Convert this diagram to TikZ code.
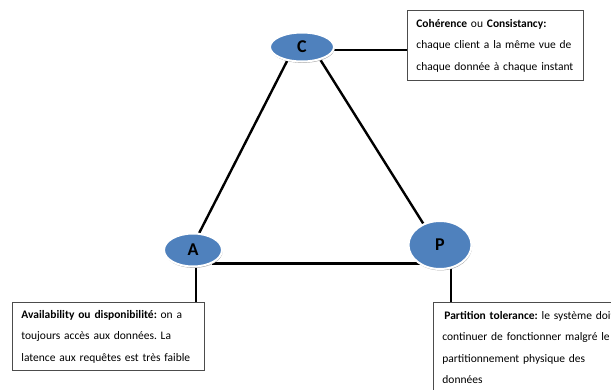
\documentclass[tikz,border=0pt]{standalone}
\usepackage{fontspec}
\setmainfont{Carlito}
\usetikzlibrary{shapes.geometric,backgrounds,shadows}
\definecolor{capblue}{RGB}{79,129,189}
\begin{document}
\begin{tikzpicture}[x=1pt,y=-1pt,
  vertex/.style={ellipse, fill=capblue, draw=white, line width=2pt, inner sep=0pt,
    font=\fontsize{18}{20}\selectfont\bfseries,
    drop shadow={shadow xshift=0.6pt, shadow yshift=-1.4pt, fill=black!35, opacity=1}},
  infobox/.style={draw=black!70, line width=0.8pt, fill=white, align=left,
    inner xsep=9pt, inner ysep=0pt, font=\frenchspacing\fontsize{11.5}{21.5}\selectfont, anchor=north west},
  link/.style={line width=2.4pt, black}]
\useasboundingbox (0,0) rectangle (611,389);
\clip (0,0) rectangle (611,389);
\node[vertex, minimum width=64pt, minimum height=29pt] (C) at (302,47) {C};
\node[vertex, minimum width=58pt, minimum height=33pt] (A) at (193,250) {A};
\node[vertex, minimum width=63pt, minimum height=48pt] (P) at (440,245) {P};
\node[infobox, text width=158pt, minimum width=176pt, minimum height=70pt] (bC) at (407,10)
  {\textbf{Cohérence} ou \textbf{Consistancy:}\\ chaque client a la même vue de\\ chaque donnée à chaque instant};
\node[infobox, text width=174pt, minimum width=192pt, minimum height=68pt] (bA) at (12,302)
  {\textbf{Availability ou disponibilité:} on a\\ toujours accès aux données. La\\ latence aux requêtes est très faible};
\node[infobox, text width=182pt, minimum width=200pt, minimum height=90pt] (bP) at (433,302)
  {\hspace{2pt}\textbf{Partition tolerance:} le système doit\\ continuer de fonctionner malgré le\\ partitionnement physique des\\ données};
\begin{scope}[on background layer]
\draw[link] (C.223) -- (A.70);
\draw[link] (C.-35) -- (P.128);
\draw[link] (A.-35) -- (A.-35 -| P.center);
\draw[link] (C.-5) -- (C.-5 -| bC.west);
\draw[link] (A.-80) -- (A.-80 |- bA.north);
\draw[link] (P.-65) -- (P.-65 |- bP.north);
\end{scope}
\end{tikzpicture}
\end{document}
